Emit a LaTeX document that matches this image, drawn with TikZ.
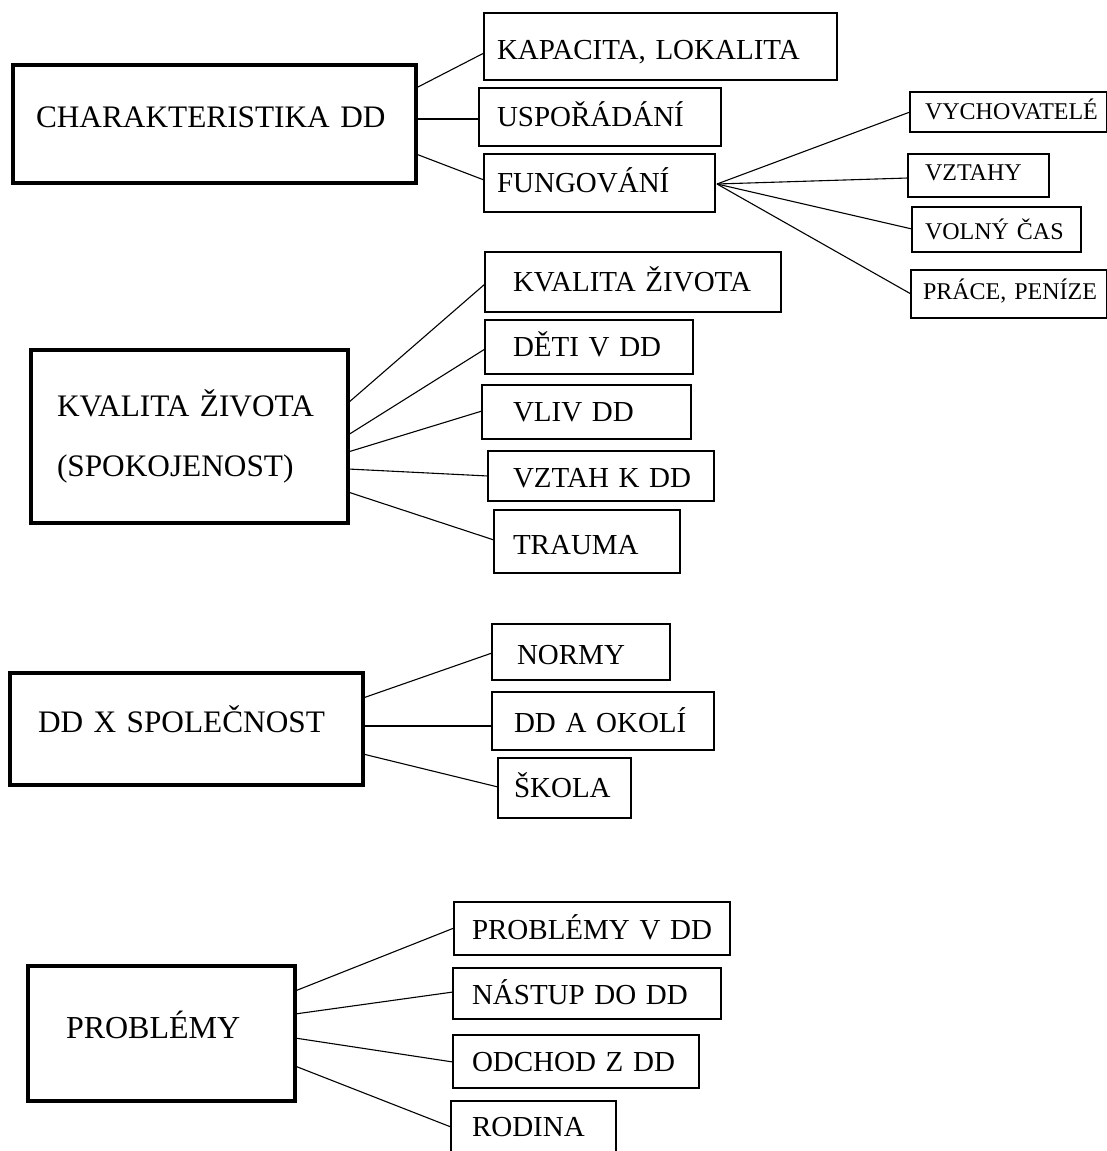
\documentclass[tikz,border=0pt]{standalone}
\usepackage{fontspec}
\setmainfont{Liberation Serif}
\usetikzlibrary{calc}
\tikzset{
  mainbox/.style={draw, line width=4pt, rectangle, anchor=north west, outer sep=0pt,
    align=left, inner ysep=2pt, font=\fontsize{31.3}{36}\selectfont},
  subbox/.style={draw, line width=1.3pt, rectangle, anchor=north west, outer sep=0pt,
    align=left, inner ysep=2pt, font=\fontsize{29}{33}\selectfont, text height=19pt, text depth=0pt},
  smallbox/.style={subbox, font=\fontsize{24}{28}\selectfont, text height=15.8pt},
  link/.style={draw, line width=1.1pt},
}
\begin{document}
\begin{tikzpicture}[x=1pt,y=-1pt]
\fill[white] (0,0) rectangle (1107,1151);
\useasboundingbox (0,0) rectangle (1107,1151);

% group 1
\node[mainbox, minimum width=403pt, minimum height=118pt, inner xsep=23pt, text width=357pt, text height=21pt, text depth=14pt] (ch) at (13,65) {CHARAKTERISTIKA~DD};
\node[subbox, minimum width=353pt, minimum height=67pt, inner xsep=13pt, text width=327pt, text height=26pt] (kap) at (484,13) {KAPACITA,~LOKALITA};
\node[subbox, minimum width=242pt, minimum height=58pt, inner xsep=18pt, text width=206pt] (usp) at (479,88) {USPOŘÁDÁNÍ};
\node[subbox, minimum width=231pt, minimum height=58pt, inner xsep=13pt, text width=205pt] (fun) at (484,154) {FUNGOVÁNÍ};
\node[smallbox, minimum width=197pt, minimum height=40pt, inner xsep=15pt, text width=167pt] (vych) at (910,92) {VYCHOVATELÉ};
\node[smallbox, minimum width=141pt, minimum height=43pt, inner xsep=17pt, text width=107pt, text depth=5pt] (vzt) at (908,154) {VZTAHY};
\node[smallbox, minimum width=169pt, minimum height=45pt, inner xsep=13pt, text width=143pt, text height=20.5pt] (vol) at (912,207) {VOLNÝ~ČAS};
\node[smallbox, minimum width=196pt, minimum height=48pt, inner xsep=12pt, text width=172pt, text depth=4pt] (pra) at (911,270) {PRÁCE,~PENÍZE};

\draw[link] ($(ch.north east)+(0,23)$) -- ($(kap.north west)+(0,40)$);
\draw[link] ($(ch.north east)+(0,54)$) -- ($(usp.north west)+(0,31)$);
\draw[link] ($(ch.north east)+(0,89)$) -- ($(fun.north west)+(0,26)$);
\coordinate (fo) at ($(fun.north east)+(2,30)$);
\draw[link] (fo) -- ($(vych.north west)+(0,20)$);
\draw[link] (fo) -- ($(vzt.north west)+(0,24)$);
\draw[link] (fo) -- ($(vol.north west)+(0,22)$);
\draw[link] (fo) -- ($(pra.north west)+(0,24)$);

% group 2
\node[mainbox, minimum width=317pt, minimum height=173pt, inner xsep=26pt, text width=265pt, font=\fontsize{31.3}{60}\selectfont] (kz) at (31,350) {KVALITA~ŽIVOTA\\(SPOKOJENOST)};
\node[subbox, minimum width=296pt, minimum height=60pt, inner xsep=28pt, text width=240pt] (kzc) at (485,252) {KVALITA~ŽIVOTA};
\node[subbox, minimum width=208pt, minimum height=54pt, inner xsep=28pt, text width=152pt] (det) at (485,320) {DĚTI~V~DD};
\node[subbox, minimum width=209pt, minimum height=54pt, inner xsep=31pt, text width=147pt] (vliv) at (482,385) {VLIV~DD};
\node[subbox, minimum width=226pt, minimum height=50pt, inner xsep=25pt, text width=176pt, text height=23pt] (vzk) at (488,451) {VZTAH~K~DD};
\node[subbox, minimum width=186pt, minimum height=63pt, inner xsep=19pt, text width=148pt, text height=26pt] (tra) at (494,510) {TRAUMA};

\draw[link] ($(kz.north east)+(0,53)$) -- ($(kzc.north west)+(0,32)$);
\draw[link] ($(kz.north east)+(0,85)$) -- ($(det.north west)+(0,29)$);
\draw[link] ($(kz.north east)+(0,102)$) -- ($(vliv.north west)+(0,26)$);
\draw[link] ($(kz.north east)+(0,119)$) -- ($(vzk.north west)+(0,25)$);
\draw[link] ($(kz.north east)+(0,142)$) -- ($(tra.north west)+(0,30)$);

% group 3
\node[mainbox, minimum width=353pt, minimum height=112pt, inner xsep=28pt, text width=297pt, text height=21pt, text depth=14pt] (dds) at (10,673) {DD~X~SPOLEČNOST};
\node[subbox, minimum width=178pt, minimum height=56pt, inner xsep=25pt, text width=128pt, text height=25pt] (nor) at (492,624) {NORMY};
\node[subbox, minimum width=222pt, minimum height=58pt, inner xsep=22pt, text width=178pt, text height=23pt] (okol) at (492,692) {DD~A~OKOLÍ};
\node[subbox, minimum width=133pt, minimum height=60pt, inner xsep=16pt, text width=101pt] (sko) at (498,758) {ŠKOLA};

\draw[link] ($(dds.north east)+(0,25)$) -- ($(nor.north west)+(0,29)$);
\draw[link] ($(dds.north east)+(0,53)$) -- ($(okol.north west)+(0,34)$);
\draw[link] ($(dds.north east)+(0,81)$) -- ($(sko.north west)+(0,29)$);

% group 4
\node[mainbox, minimum width=267pt, minimum height=135pt, inner xsep=38pt, text width=191pt, text height=21pt, text depth=11pt, font=\fontsize{32}{36}\selectfont] (pro) at (28,966) {PROBLÉMY};
\node[subbox, minimum width=276pt, minimum height=53pt, inner xsep=18pt, text width=240pt, text height=22pt] (pvdd) at (454,902) {PROBLÉMY~V~DD};
\node[subbox, minimum width=268pt, minimum height=51pt, inner xsep=19pt, text width=230pt, text height=22pt] (nas) at (453,968) {NÁSTUP~DO~DD};
\node[subbox, minimum width=246pt, minimum height=53pt, inner xsep=19pt, text width=208pt] (odc) at (453,1035) {ODCHOD~Z~DD};
\node[subbox, minimum width=165pt, minimum height=52pt, inner xsep=21pt, text width=123pt] (rod) at (451,1101) {RODINA};

\draw[link] ($(pro.north east)+(0,25)$) -- ($(pvdd.north west)+(0,26)$);
\draw[link] ($(pro.north east)+(0,48)$) -- ($(nas.north west)+(0,24)$);
\draw[link] ($(pro.north east)+(0,72)$) -- ($(odc.north west)+(0,27)$);
\draw[link] ($(pro.north east)+(0,100)$) -- ($(rod.north west)+(0,26)$);
\end{tikzpicture}
\end{document}
